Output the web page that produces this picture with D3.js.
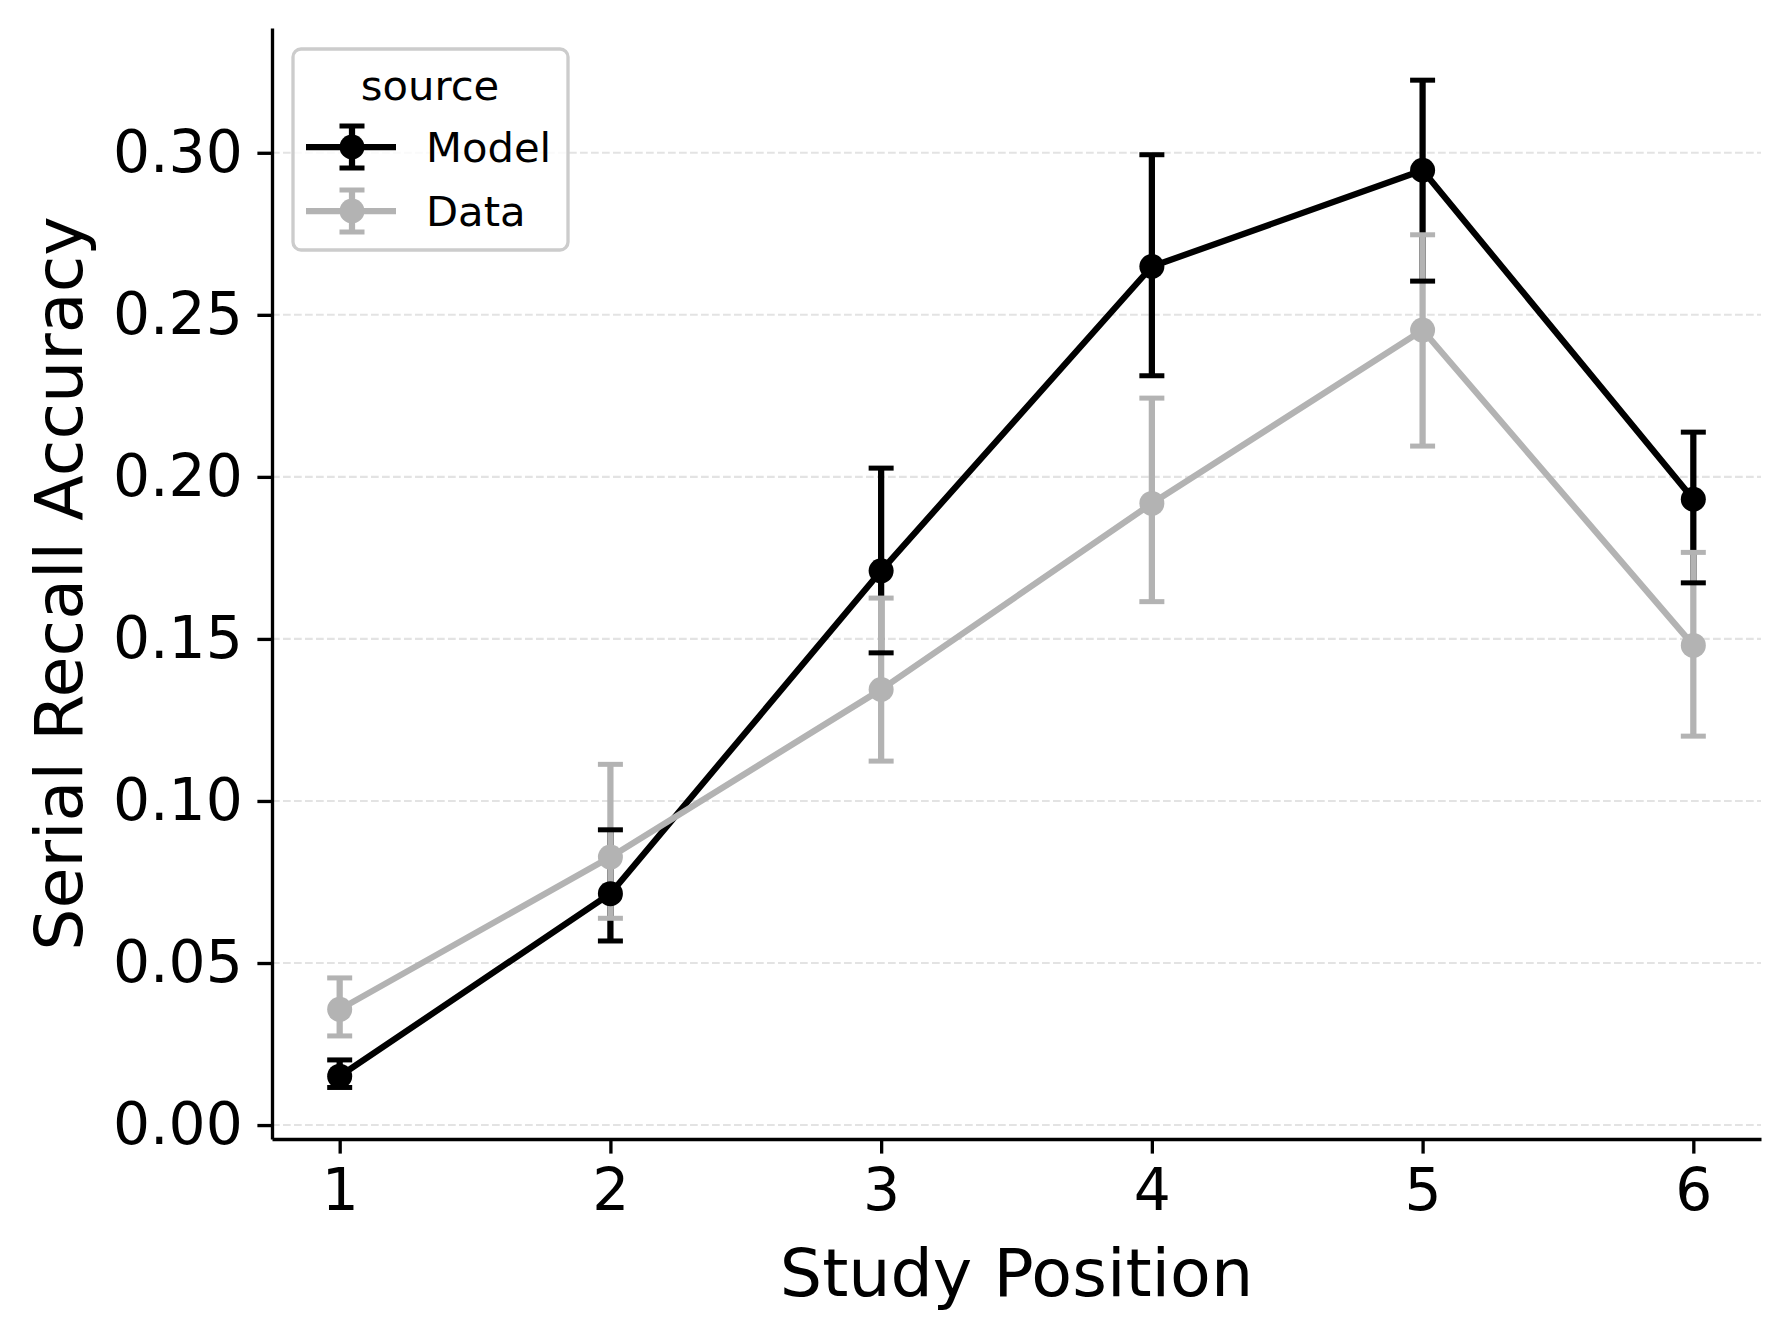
<!DOCTYPE html>
<html>
<head>
<meta charset="utf-8">
<script src="https://cdn.jsdelivr.net/npm/d3@7"></script>
<style>
  html, body { margin: 0; padding: 0; background: #fff; }
  svg { display: block; font-family: "DejaVu Sans", sans-serif; }
</style>
</head>
<body>
<div id="chart"></div>
<script>
const width = 1789;
const height = 1337;
const margin = { top: 28, right: 28, bottom: 198, left: 272 };

// data
const positions = [1, 2, 3, 4, 5, 6];
const yTicks = [0.00, 0.05, 0.10, 0.15, 0.20, 0.25, 0.30];

const modelMean = [0.0151, 0.0714, 0.1710, 0.2649, 0.2946, 0.1931];
const modelLow  = [0.0116, 0.0568, 0.1457, 0.2312, 0.2604, 0.1673];
const modelHigh = [0.0201, 0.0911, 0.2027, 0.2994, 0.3224, 0.2138];

const dataMean = [0.0357, 0.0827, 0.1344, 0.1918, 0.2453, 0.1480];
const dataLow  = [0.0275, 0.0638, 0.1123, 0.1615, 0.2095, 0.1200];
const dataHigh = [0.0454, 0.1113, 0.1626, 0.2243, 0.2747, 0.1767];

const seriesNames = ["Model", "Data"];
const seriesColors = ["#000000", "#b3b3b3"];

const series = [
    { name: seriesNames[0], color: seriesColors[0], mean: modelMean, low: modelLow, high: modelHigh },
    { name: seriesNames[1], color: seriesColors[1], mean: dataMean, low: dataLow, high: dataHigh }
];

const lw = 6.25;        // 1.5pt at 300 dpi
const markerR = 12.5;   // 6pt marker
const capHalf = 12.5;
const tickFont = 58.3;
const labelFont = 66.7;
const legendFont = 41.7;

const svg = d3.select("#chart")
    .append("svg")
    .attr("width", width)
    .attr("height", height);

svg.append("rect")
    .attr("width", width)
    .attr("height", height)
    .attr("fill", "#fff");

const x = d3.scaleLinear()
    .domain([0.75, 6.25])
    .range([margin.left, width - margin.right]);

const y = d3.scaleLinear()
    .domain([-0.0043, 0.3385])
    .range([height - margin.bottom, margin.top]);

/* ------------------------
   GRID
-------------------------*/
svg.append("g")
    .selectAll("line")
    .data(yTicks)
    .enter()
    .append("line")
    .attr("x1", x.range()[0])
    .attr("x2", x.range()[1])
    .attr("y1", d => y(d))
    .attr("y2", d => y(d))
    .attr("stroke", "#e3e3e3")
    .attr("stroke-width", 2.1)
    .attr("stroke-dasharray", "7.7,3.3");

/* ------------------------
   SERIES
-------------------------*/
const plot = svg.append("g");

// error bar stems
series.forEach(s => {
    plot.append("g")
        .selectAll("line")
        .data(positions)
        .enter()
        .append("line")
        .attr("x1", d => x(d))
        .attr("x2", d => x(d))
        .attr("y1", (d, i) => y(s.low[i]))
        .attr("y2", (d, i) => y(s.high[i]))
        .attr("stroke", s.color)
        .attr("stroke-width", lw);
});

// caps
series.forEach(s => {
    const caps = plot.append("g");
    positions.forEach((p, i) => {
        [s.low[i], s.high[i]].forEach(v => {
            caps.append("line")
                .attr("x1", x(p) - capHalf)
                .attr("x2", x(p) + capHalf)
                .attr("y1", y(v))
                .attr("y2", y(v))
                .attr("stroke", s.color)
                .attr("stroke-width", 5);
        });
    });
});

// lines and markers
const line = d3.line()
    .x(d => x(d[0]))
    .y(d => y(d[1]));

series.forEach(s => {
    const pts = positions.map((p, i) => [p, s.mean[i]]);
    plot.append("path")
        .datum(pts)
        .attr("d", line)
        .attr("fill", "none")
        .attr("stroke", s.color)
        .attr("stroke-width", lw)
        .attr("stroke-linejoin", "round");

    plot.append("g")
        .selectAll("circle")
        .data(pts)
        .enter()
        .append("circle")
        .attr("cx", d => x(d[0]))
        .attr("cy", d => y(d[1]))
        .attr("r", markerR)
        .attr("fill", s.color);
});

/* ------------------------
   AXES
-------------------------*/
const xAxis = d3.axisBottom(x)
    .tickValues(positions)
    .tickFormat(d3.format("d"))
    .tickSizeInner(14.6)
    .tickSizeOuter(0)
    .tickPadding(14.6);

const yAxis = d3.axisLeft(y)
    .tickValues(yTicks)
    .tickFormat(d3.format(".2f"))
    .tickSizeInner(14.6)
    .tickSizeOuter(0)
    .tickPadding(14.6);

const gx = svg.append("g")
    .attr("transform", `translate(0,${height - margin.bottom})`)
    .call(xAxis);

const gy = svg.append("g")
    .attr("transform", `translate(${margin.left},0)`)
    .call(yAxis);

[gx, gy].forEach(g => {
    g.select(".domain").attr("stroke", "#000").attr("stroke-width", 3.33);
    g.selectAll(".tick line").attr("stroke", "#000").attr("stroke-width", 3.33);
    g.selectAll(".tick text")
        .attr("fill", "#000")
        .style("font-size", tickFont + "px")
        .style("font-family", "DejaVu Sans");
});

svg.append("text")
    .attr("x", (x.range()[0] + x.range()[1]) / 2)
    .attr("y", 1296)
    .attr("text-anchor", "middle")
    .style("font-size", labelFont + "px")
    .text("Study Position");

svg.append("text")
    .attr("transform", `translate(82,${(y.range()[0] + y.range()[1]) / 2}) rotate(-90)`)
    .attr("text-anchor", "middle")
    .style("font-size", labelFont + "px")
    .text("Serial Recall Accuracy");

/* ------------------------
   LEGEND
-------------------------*/
const legend = svg.append("g");

legend.append("rect")
    .attr("x", 293)
    .attr("y", 49)
    .attr("width", 275)
    .attr("height", 201)
    .attr("rx", 8)
    .attr("fill", "#fff")
    .attr("fill-opacity", 0.8)
    .attr("stroke", "#cccccc")
    .attr("stroke-width", 3.33);

legend.append("text")
    .attr("x", 430)
    .attr("y", 100)
    .attr("text-anchor", "middle")
    .style("font-size", legendFont + "px")
    .text("source");

const rowY = [147, 211];

series.forEach((s, i) => {
    const g = legend.append("g").attr("transform", `translate(0,${rowY[i]})`);
    g.append("line")
        .attr("x1", 306).attr("x2", 396)
        .attr("y1", 0).attr("y2", 0)
        .attr("stroke", s.color)
        .attr("stroke-width", lw);
    g.append("line")
        .attr("x1", 352).attr("x2", 352)
        .attr("y1", -21).attr("y2", 21)
        .attr("stroke", s.color)
        .attr("stroke-width", lw);
    [-21, 21].forEach(v => {
        g.append("line")
            .attr("x1", 352 - capHalf).attr("x2", 352 + capHalf)
            .attr("y1", v).attr("y2", v)
            .attr("stroke", s.color)
            .attr("stroke-width", 5);
    });
    g.append("circle")
        .attr("cx", 352)
        .attr("cy", 0)
        .attr("r", markerR)
        .attr("fill", s.color);
    g.append("text")
        .attr("x", 426)
        .attr("y", 0)
        .attr("dy", "0.36em")
        .style("font-size", legendFont + "px")
        .text(s.name);
});
</script>
</body>
</html>
